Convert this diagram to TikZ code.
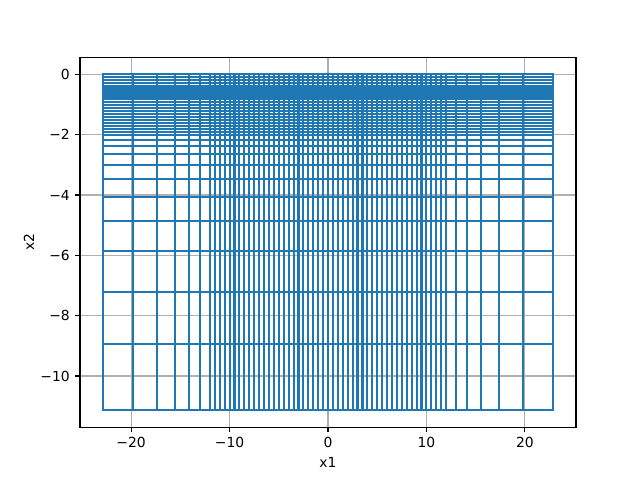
\documentclass[tikz,border=0pt]{standalone}
\usepackage{fontspec}
\setmainfont{DejaVu Sans}
\usepackage{tikz}
\usetikzlibrary{calc}
\definecolor{mplblue}{HTML}{1F77B4}
\definecolor{mplgrid}{HTML}{B0B0B0}
\tikzstyle{gridline} = [draw=mplgrid, line width=0.8pt]
\tikzstyle{meshline} = [draw=mplblue, line width=1.5pt, line cap=rect]
\tikzstyle{spine} = [draw=black, line width=0.8pt, line cap=rect]
\tikzstyle{ticmark} = [draw=black, line width=0.8pt]
\tikzstyle{ticklabel} = [inner sep=0pt, font=\fontsize{10}{12}\selectfont]

\begin{document}
\begin{tikzpicture}[x=0.72pt, y=0.72pt]
        \useasboundingbox (0,0) rectangle (640,480);
        \coordinate (axsw) at (80,52.8);
        \coordinate (axne) at (576,422.4);
        \begin{scope}[shift={(236.16pt,292.03pt)}, x=7.088pt, y=21.715pt]
            \foreach \gx in {-20,-10,...,20}
                \path[gridline] (\gx,-11.697) -- (\gx,0.557);
            \foreach \gy in {0,-2,...,-10}
                \path[gridline] (-25.19,\gy) -- (25.19,\gy);
            \foreach \k in {0,...,48}
                \path[meshline] ({-12+0.5*\k},0) -- ({-12+0.5*\k},-11.14);
            \foreach \mx in {-22.9,-19.85,-17.38,-15.53,-14.1,-12.97,12.97,14.1,15.53,17.38,19.85,22.9}
                \path[meshline] (\mx,0) -- (\mx,-11.14);
            \foreach \k in {0,...,20}
                \path[meshline] (-22.9,{-0.1*\k}) -- (22.9,{-0.1*\k});
            \foreach \my in {-2.16,-2.37,-2.64,-3.01,-3.48,-4.07,-4.87,-5.87,-7.21,-8.93,-11.14}
                \path[meshline] (-22.9,\my) -- (22.9,\my);
            \foreach \gx/\lab in {-20/−20,-10/−10,0/0,10/10,20/20}
                \path[ticmark] (\gx,-11.697) -- ++(0pt,-3.5pt)
                    node[ticklabel, anchor=north, yshift=-3.5pt] (tx\gx) {\lab};
            \foreach \gy/\lab in {0/0,-2/−2,-4/−4,-6/−6,-8/−8,-10/−10}
                \path[ticmark] (-25.19,\gy) -- ++(-3.5pt,0pt)
                    node[ticklabel, anchor=east, xshift=-3.5pt] (ty\gy) {\lab};
        \end{scope}
        \path[spine] (axsw) rectangle (axne);
        \node[ticklabel] (xlab) at (328,18) {x1};
        \node[ticklabel, rotate=90] (ylab) at (29,237.6) {x2};
    \end{tikzpicture}
\end{document}
